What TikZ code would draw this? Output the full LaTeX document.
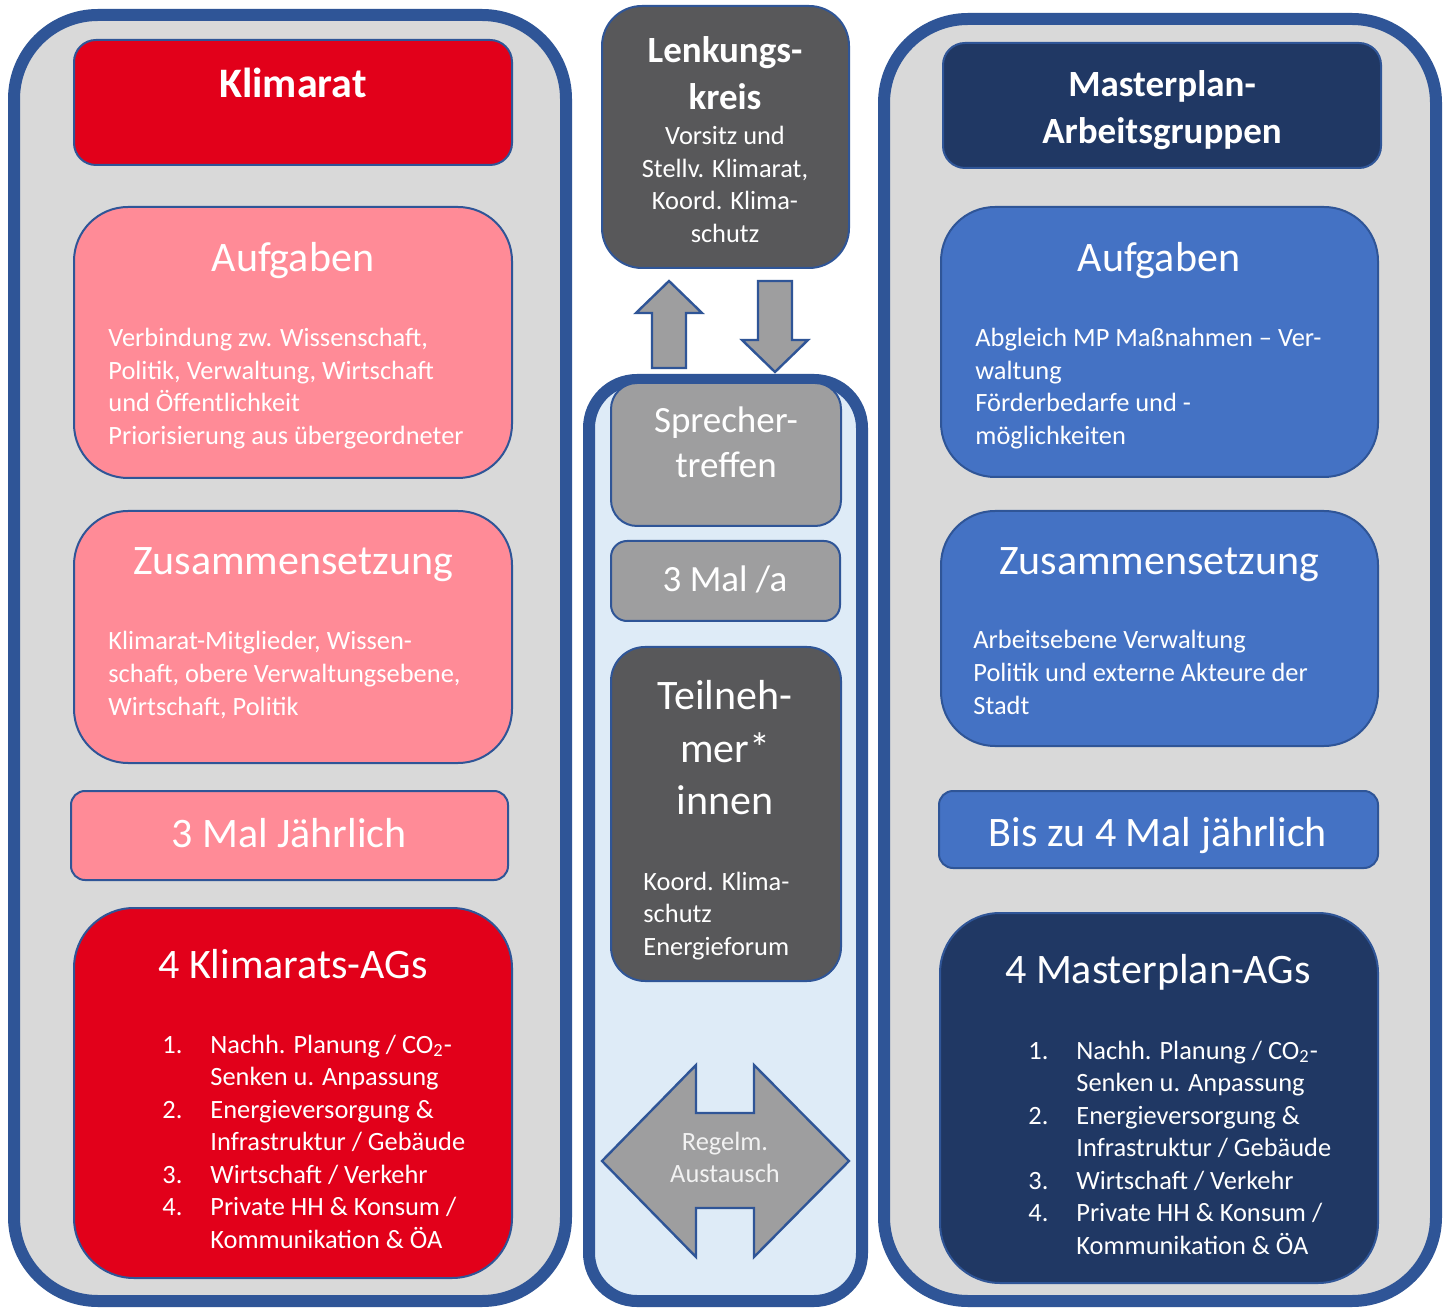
\documentclass[tikz,border=0pt]{standalone}
\usepackage{fontspec}
\setmainfont{Carlito}
\usetikzlibrary{fit}
\definecolor{pborder}{HTML}{2F5597}
\definecolor{panelgray}{HTML}{D9D9D9}
\definecolor{panelblue}{HTML}{DEEBF7}
\definecolor{kred}{HTML}{E2001A}
\definecolor{kpink}{HTML}{FF8B97}
\definecolor{mnavy}{HTML}{203864}
\definecolor{mblue}{HTML}{4472C4}
\definecolor{dgray}{HTML}{58585A}
\definecolor{mgray}{HTML}{9E9E9F}
\definecolor{offwhite}{HTML}{F2F2F2}
\newcommand\mylinesl[1]{\begin{tabular}[t]{@{}l@{}}#1\end{tabular}}
\newcommand\mylinesc[1]{\begin{tabular}[t]{@{}c@{}}#1\end{tabular}}
\newcommand\mylist[1]{\begin{tabular}[t]{@{}p{24pt}@{}l@{}}#1\end{tabular}}
\begin{document}
\begin{tikzpicture}[x=0.5pt,y=-0.5pt,
  panel/.style={draw=pborder, line width=6pt, inner sep=0pt, outer sep=0pt},
  bx/.style={draw=pborder, line width=1pt, inner sep=0pt, outer sep=0pt},
  txt/.style={text=white, inner sep=0pt, anchor=base},
  ttl/.style={txt, font=\fontsize{21}{26}\selectfont},
  mid/.style={txt, font=\fontsize{18.5}{22.5}\selectfont},
  bdy/.style={txt, font=\fontsize{13.2}{16.25}\selectfont},
  bld/.style={txt, font=\bfseries\fontsize{18.5}{23.5}\selectfont},
  blockarrow/.style={fill=mgray, draw=pborder, line width=1.2pt, line join=miter}
]
\useasboundingbox[fill=white] (0,0) rectangle (1450,1309);

% panels
\node[panel, fill=panelgray, rounded corners=42pt, fit={(14,15) (566,1301)}] (panelL) {};
\node[panel, fill=panelblue, rounded corners=24pt, fit={(589,380) (862,1301)}] (panelC) {};
\node[panel, fill=panelgray, rounded corners=42pt, fit={(884,19) (1436,1301)}] (panelR) {};

% left column
\node[bx, fill=kred, rounded corners=11pt, fit={(74,40) (512,165)}] (klimarat) {};
\node[bx, fill=kpink, rounded corners=27pt, fit={(74,207) (512,478)}] (aufgL) {};
\node[bx, fill=kpink, rounded corners=27pt, fit={(74,511) (512,763)}] (zusL) {};
\node[bx, fill=kpink, rounded corners=7pt, fit={(71,791) (508,880)}] (malL) {};
\node[bx, fill=kred, rounded corners=30pt, fit={(74,908) (512,1278)}] (agsL) {};

% right column
\node[bx, fill=mnavy, rounded corners=11pt, fit={(943,43) (1381,168)}] (mp) {};
\node[bx, fill=mblue, rounded corners=27pt, fit={(941,207) (1378,477)}] (aufgR) {};
\node[bx, fill=mblue, rounded corners=27pt, fit={(941,511) (1378,746)}] (zusR) {};
\node[bx, fill=mblue, rounded corners=7pt, fit={(939,791) (1378,868)}] (bis) {};
\node[bx, fill=mnavy, rounded corners=30pt, fit={(940,913) (1378,1283)}] (agsR) {};

% center column
\node[bx, fill=dgray, rounded corners=20pt, fit={(602,6) (849,268)}] (lenk) {};
\node[bx, fill=mgray, rounded corners=13pt, fit={(611,383) (841,526)}] (sprech) {};
\node[bx, fill=mgray, rounded corners=8pt, fit={(611,541) (840,621)}] (mala) {};
\node[bx, fill=dgray, rounded corners=17pt, fit={(611,647) (841,981)}] (teil) {};

% block arrows
\draw[blockarrow] (669,281) -- (702,313) -- (686,313) -- (686,368) -- (652,368) -- (652,313) -- (636,313) -- cycle;
\draw[blockarrow] (758,281) -- (792,281) -- (792,340) -- (808,340) -- (775,372) -- (742,340) -- (758,340) -- cycle;
\draw[blockarrow] (602,1161) -- (696,1065) -- (696,1113) -- (754,1113) -- (754,1065) -- (849,1161)
  -- (754,1257) -- (754,1208) -- (696,1208) -- (696,1257) -- cycle;

% texts left
\node[txt, font=\bfseries\fontsize{21}{26}\selectfont] (tklimarat) at (293,98) {Klimarat};
\node[ttl] (taufgL) at (293,272) {Aufgaben};
\node[bdy, anchor=base west] (baufgL) at (108,347) {\mylinesl{Verbindung zw. Wissenschaft,\\Politik, Verwaltung, Wirtschaft\\und Öffentlichkeit\\Priorisierung aus übergeordneter}};
\node[ttl] (tzusL) at (293,575) {Zusammensetzung};
\node[bdy, anchor=base west] (bzusL) at (108,650) {\mylinesl{Klimarat-Mitglieder, Wissen-\\schaft, obere Verwaltungsebene,\\Wirtschaft, Politik}};
\node[ttl] (tmalL) at (289,847) {3 Mal Jährlich};
\node[ttl] (tagsL) at (293,978) {4 Klimarats-AGs};
\node[bdy, anchor=base west] (lagsL) at (162,1053) {\mylist{1.&Nachh. Planung / CO\textsubscript{2}-\\&Senken u. Anpassung\\2.&Energieversorgung \&\\&Infrastruktur / Gebäude\\3.&Wirtschaft / Verkehr\\4.&Private HH \& Konsum /\\&Kommunikation \& ÖA}};

% texts right
\node[bld] (tmp) at (1162,97) {\mylinesc{Masterplan-\\Arbeitsgruppen}};
\node[ttl] (taufgR) at (1159,272) {Aufgaben};
\node[bdy, anchor=base west] (baufgR) at (975,347) {\mylinesl{Abgleich MP Maßnahmen – Ver-\\waltung\\Förderbedarfe und -\\möglichkeiten}};
\node[ttl] (tzusR) at (1159,575) {Zusammensetzung};
\node[bdy, anchor=base west] (bzusR) at (973,649) {\mylinesl{Arbeitsebene Verwaltung\\Politik und externe Akteure der\\Stadt}};
\node[ttl] (tbis) at (1158,846) {Bis zu 4 Mal jährlich};
\node[ttl] (tagsR) at (1158,983) {4 Masterplan-AGs};
\node[bdy, anchor=base west] (lagsR) at (1028,1059) {\mylist{1.&Nachh. Planung / CO\textsubscript{2}-\\&Senken u. Anpassung\\2.&Energieversorgung \&\\&Infrastruktur / Gebäude\\3.&Wirtschaft / Verkehr\\4.&Private HH \& Konsum /\\&Kommunikation \& ÖA}};

% texts center
\node[bld] (tlenk) at (725,63) {\mylinesc{Lenkungs-\\kreis}};
\node[bdy] (blenk) at (725,145) {\mylinesc{Vorsitz und\\Stellv. Klimarat,\\Koord. Klima-\\schutz}};
\node[mid] (tsprech) at (726,433) {\mylinesc{Sprecher-\\treffen}};
\node[mid] (tmala) at (725,592) {3 Mal /a};
\node[ttl] (tteil) at (725,710) {\mylinesc{Teilneh-\\mer*\\innen}};
\node[bdy, anchor=base west] (bteil) at (643,890) {\mylinesl{Koord. Klima-\\schutz\\Energieforum}};
\node[bdy, text=offwhite] (tregel) at (725,1150) {\mylinesc{Regelm.\\Austausch}};
\end{tikzpicture}
\end{document}
